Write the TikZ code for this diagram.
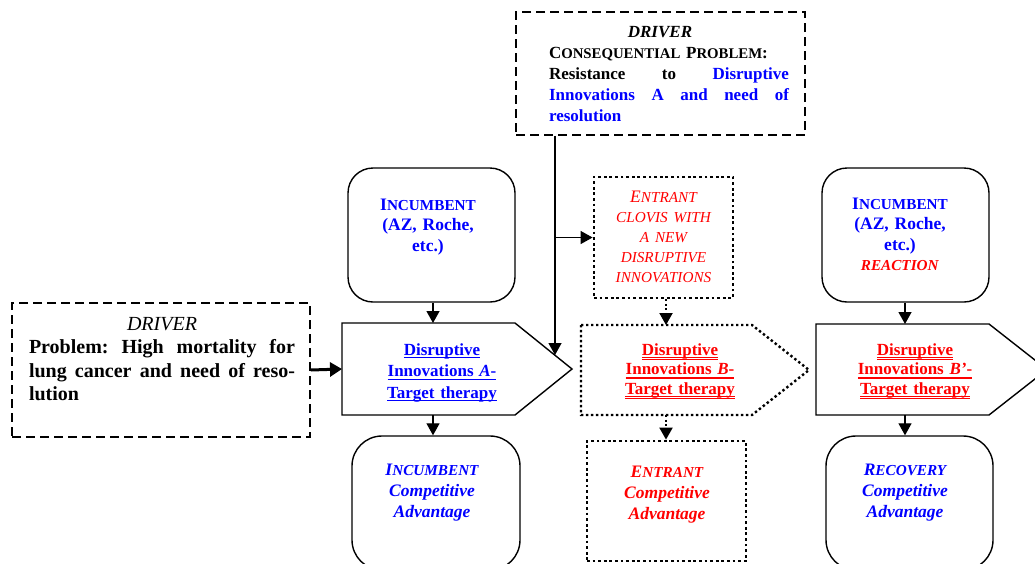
\documentclass[tikz,border=0pt]{standalone}
\usepackage{fontspec}
\setmainfont{Liberation Serif}
\usetikzlibrary{arrows.meta}
\definecolor{tblue}{RGB}{0,0,255}
\definecolor{tred}{RGB}{255,0,0}
\makeatletter
\newcommand\SC[1]{{\fontsize{\fpeval{0.87*\f@size}}{\f@baselineskip}\selectfont #1}}
\makeatother
\newcommand\UL[1]{\leavevmode\setbox0=\hbox{#1}\rlap{\vrule width\wd0 height -2.2pt depth 3.3pt}\box0}
\newcommand\UUL[1]{\leavevmode\setbox0=\hbox{#1}\rlap{\vrule width\wd0 height -2.0pt depth 2.9pt}\rlap{\vrule width\wd0 height -3.8pt depth 4.7pt}\box0}
\tikzset{
  dashbox/.style={draw, line width=1.8pt, dash pattern=on 9pt off 5pt, inner sep=0},
  dotbox/.style={draw, line width=2.8pt, dash pattern=on 2.8pt off 2.8pt, inner sep=0},
  rbox/.style={draw, line width=1.4pt, rounded corners=25pt, inner sep=0},
  pentsolid/.style={draw, line width=1.4pt, line join=miter},
  pentdot/.style={draw, line width=2.4pt, dash pattern=on 2.4pt off 2.6pt},
  arr/.style={line width=1.3pt, -{Triangle[length=12pt,width=13pt]}},
  darr/.style={line width=2pt, dash pattern=on 2pt off 2.5pt, -{Triangle[length=12pt,width=13pt]}},
  thickarr/.style={line width=3pt, -{Triangle[length=12pt,width=14pt]}},
  txt/.style={inner sep=0, anchor=base, text width=#1, align=center},
}
\begin{document}
\begin{tikzpicture}[x=1pt,y=-1pt]
\useasboundingbox (0,0) rectangle (1035,563);
\clip (0,0) rectangle (1035,563);

% boxes
\node[dashbox, minimum width=289pt, minimum height=123pt] (topdrv) at (660.5,73.5) {};
\node[dashbox, minimum width=298pt, minimum height=134pt] (ldrv) at (161,370) {};
\node[rbox, minimum width=167pt, minimum height=134pt] (inc1) at (431.5,235) {};
\node[dotbox, minimum width=139pt, minimum height=121pt] (ent) at (663.5,237.5) {};
\node[rbox, minimum width=167pt, minimum height=134pt] (inc2) at (905.5,235) {};
\node[rbox, rounded corners=30pt, minimum width=168pt, minimum height=134pt] (cbox1) at (436,503) {};
\node[dotbox, minimum width=159pt, minimum height=120pt] (cbox2) at (666.5,501) {};
\node[rbox, rounded corners=30pt, minimum width=167pt, minimum height=134pt] (cbox3) at (909.5,503) {};

% pentagons
\draw[pentsolid] (342,323) -- (515,323) -- (572,369) -- (515,415) -- (342,415) -- cycle;
\draw[pentdot] (581,325) -- (752,325) -- (809,370) -- (752,415) -- (581,415) -- cycle;
\draw[pentsolid] (816,324) -- (989,324) -- (1047,369.5) -- (989,415) -- (816,415) -- cycle;

% texts
\node[txt=240pt, align=left, font=\fontsize{17}{21}\selectfont\bfseries] (ttop) at (669,37)
 {\null\hfill\textit{DRIVER}\hspace{18pt}\hfill\null\\
  C\SC{ONSEQUENTIAL} P\SC{ROBLEM}:\\
  Resistance\hfill to\hfill \textcolor{tblue}{Disruptive}\\
  \textcolor{tblue}{Innovations\hfill A\hfill and\hfill need\hfill of}\\
  \textcolor{tblue}{resolution}};

\node[txt=266pt, align=left, font=\fontsize{20}{23.5}\selectfont] (tleft) at (162,330)
 {\null\hfill\textit{DRIVER}\hfill\null\\
  \textbf{Problem:\hfill High\hfill mortality\hfill for}\\
  \textbf{lung\hfill cancer\hfill and\hfill need\hfill of\hfill reso-}\\
  \textbf{lution}};

\node[txt=160pt, text=tblue, font=\fontsize{17.5}{20.5}\selectfont\bfseries] (tinc1) at (428,210)
 {I\SC{NCUMBENT}\\(AZ, Roche,\\etc.)};
\node[txt=160pt, text=tblue, font=\fontsize{17.5}{20.5}\selectfont\bfseries] (tinc2) at (900,209)
 {I\SC{NCUMBENT}\\(AZ, Roche,\\etc.)\\\textcolor{tred}{\textit{\SC{REACTION}}}};

\node[txt=130pt, text=tred, font=\fontsize{17.5}{20}\selectfont\itshape] (tent) at (663.5,202)
 {E\SC{NTRANT}\\\SC{CLOVIS WITH}\\\SC{A NEW}\\\SC{DISRUPTIVE}\\\SC{INNOVATIONS}};

\node[txt=150pt, text=tblue, font=\fontsize{17}{21.5}\selectfont\bfseries] (tp1) at (442,355)
 {\UL{Disruptive}\\\UL{Innovations \textit{A}-}\\\UL{Target therapy}};
\node[txt=150pt, text=tred, font=\fontsize{17}{19.5}\selectfont\bfseries] (tp2) at (680,355)
 {\UUL{Disruptive}\\\UUL{Innovations \textit{B}-}\\\UUL{Target therapy}};
\node[txt=150pt, text=tred, font=\fontsize{17}{19.5}\selectfont\bfseries] (tp3) at (915,355)
 {\UUL{Disruptive}\\\UUL{Innovations \textit{B’}-}\\\UUL{Target therapy}};

\node[txt=160pt, text=tblue, font=\fontsize{17.5}{21}\selectfont\bfseries\itshape] (tc1) at (432,475)
 {I\SC{NCUMBENT}\\Competitive\\Advantage};
\node[txt=150pt, text=tred, font=\fontsize{17.5}{21}\selectfont\bfseries\itshape] (tc2) at (667,477)
 {E\SC{NTRANT}\\Competitive\\Advantage};
\node[txt=160pt, text=tblue, font=\fontsize{17.5}{21}\selectfont\bfseries\itshape] (tc3) at (905,475)
 {R\SC{ECOVERY}\\Competitive\\Advantage};

% connector end points on the pentagons
\coordinate (p1n) at (433,323);
\coordinate (p1s) at (433,415);
\coordinate (p1w) at (342,369);
\coordinate (p2n) at (666,325);
\coordinate (p2s) at (666,415);
\coordinate (p3n) at (905,324);
\coordinate (p3s) at (905,415);
\coordinate (vend) at (555,355);
\coordinate (br) at (555,237.5);

% connectors
\draw[thickarr] (ldrv.east) -- (p1w);
\draw[arr] (inc1.south -| p1n) -- (p1n);
\draw[arr] (p1s) -- (p1s |- cbox1.north);
\draw[darr] (ent.south -| p2n) -- (p2n);
\draw[darr] (p2s) -- (p2s |- cbox2.north);
\draw[arr] (inc2.south -| p3n) -- (p3n);
\draw[arr] (p3s) -- (p3s |- cbox3.north);
\draw[arr] (topdrv.south -| vend) -- (vend);
\draw[arr] (br) -- (ent.west);
\end{tikzpicture}
\end{document}
